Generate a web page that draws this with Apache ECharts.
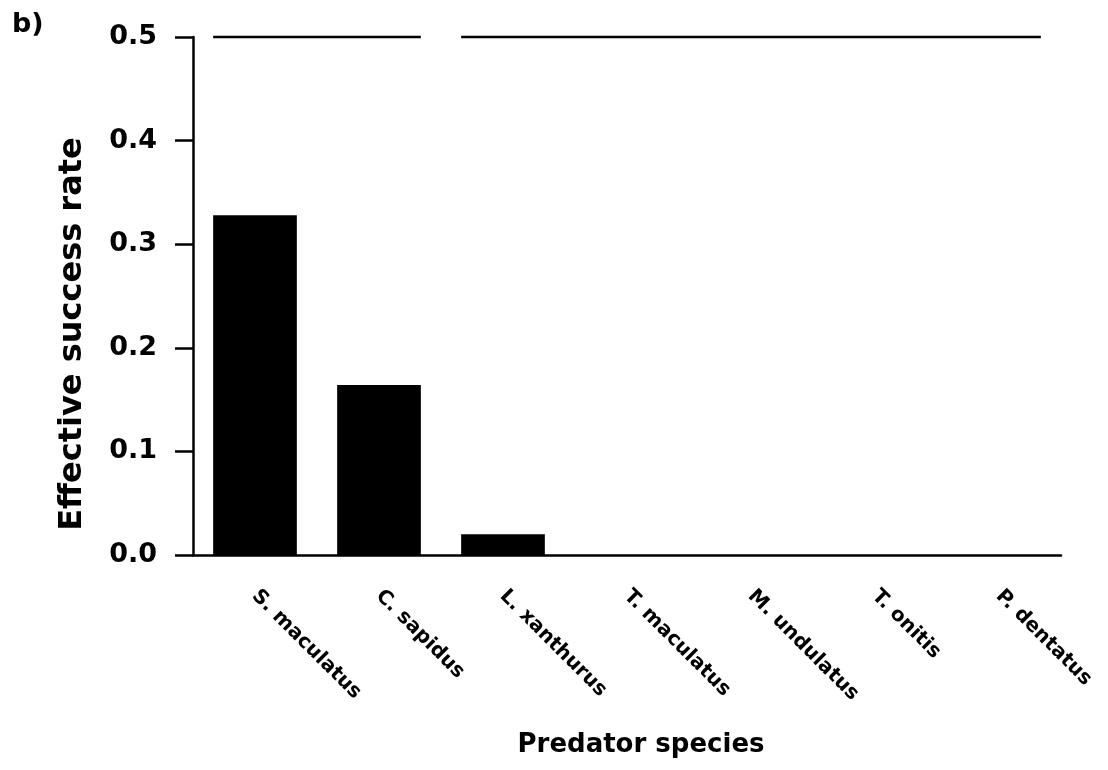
<!DOCTYPE html>
<html>
<head>
<meta charset="utf-8">
<script src="https://cdn.jsdelivr.net/npm/echarts@6/dist/echarts.min.js"></script>
<style>
html,body{margin:0;padding:0;background:#fff;}
#chart{width:1108px;height:770px;}
</style>
</head>
<body>
<div id="chart"></div>
<script>
const categories = ['S. maculatus', 'C. sapidus', 'L. xanthurus', 'T. maculatus', 'M. undulatus', 'T. onitis', 'P. dentatus'];
const values = [0.328, 0.164, 0.020, 0, 0, 0, 0];
const yTicks = [0.0, 0.1, 0.2, 0.3, 0.4, 0.5];
// significance grouping lines: first category index, last category index, level
const groupStart = [0, 2];
const groupEnd = [1, 6];
const groupLevel = [0.5, 0.5];

const BAR_RATIO = 0.675;
const FONT = 'DejaVu Sans';

const chart = echarts.init(document.getElementById('chart'), null, {renderer: 'canvas'});
const groupData = groupStart.map((s, i) => [s, groupEnd[i], groupLevel[i]]);

chart.setOption({
  backgroundColor: '#fff',
  animation: false,
  title: {
    text: 'b)', left: 7, top: 6,
    textStyle: {fontFamily: FONT, fontSize: 27, fontWeight: 'bold', color: '#000'}
  },
  grid: {left: 193, right: 47, top: 37, bottom: 215, containLabel: false},
  xAxis: {
    type: 'category',
    data: categories,
    boundaryGap: true,
    name: 'Predator species',
    nameLocation: 'middle',
    nameGap: 177,
    nameTextStyle: {fontFamily: FONT, fontSize: 26, fontWeight: 'bold', color: '#000', padding: [0, 0, 0, 28]},
    axisLine: {lineStyle: {color: '#000', width: 2.5}},
    axisTick: {alignWithLabel: true, length: 18, lineStyle: {color: '#000', width: 2.5}},
    axisLabel: {rotate: -45, margin: 38, fontFamily: FONT, fontSize: 20, fontWeight: 'bold', color: '#000', interval: 0},
    splitLine: {show: false}
  },
  yAxis: {
    type: 'value',
    min: 0, max: 0.5, interval: 0.1,
    name: 'Effective success rate',
    nameLocation: 'middle',
    nameGap: 104,
    nameTextStyle: {fontFamily: FONT, fontSize: 32, fontWeight: 'bold', color: '#000', padding: [0, 76, 0, 0]},
    axisLine: {show: true, lineStyle: {color: '#000', width: 2.5}},
    axisTick: {show: true, length: 18, lineStyle: {color: '#000', width: 2.5}},
    axisLabel: {
      margin: 36, fontFamily: FONT, fontSize: 27, fontWeight: 'bold', color: '#000',
      formatter: v => {
        const t = yTicks.find(x => Math.abs(x - v) < 1e-9);
        return (t !== undefined ? t : v).toFixed(1);
      }
    },
    splitLine: {show: false}
  },
  series: [
    {
      type: 'bar',
      data: values,
      barWidth: (BAR_RATIO * 100) + '%',
      itemStyle: {color: '#000'}
    },
    {
      type: 'custom',
      data: groupData,
      encode: {x: [0, 1], y: 2},
      clip: false,
      renderItem: function (params, api) {
        const a = api.coord([api.value(0), api.value(2)]);
        const b = api.coord([api.value(1), api.value(2)]);
        const half = api.size([1, 0])[0] * BAR_RATIO / 2;
        return {
          type: 'line',
          shape: {x1: a[0] - half, y1: a[1], x2: b[0] + half, y2: b[1]},
          style: {stroke: '#000', lineWidth: 2.5}
        };
      }
    }
  ]
});
</script>
</body>
</html>
